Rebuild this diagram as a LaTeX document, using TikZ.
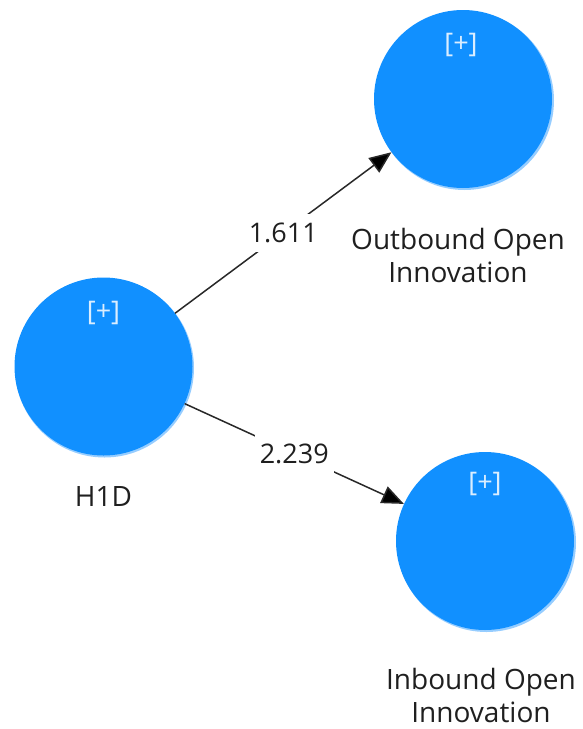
\documentclass[tikz,border=0pt]{standalone}
\usepackage{fontspec}
\setmainfont{Open Sans}
\usetikzlibrary{arrows.meta}
\definecolor{lvblue}{RGB}{17,144,255}
\definecolor{lvrim}{RGB}{150,205,255}
\definecolor{pathgray}{RGB}{40,40,40}
\tikzset{
  latent/.style={circle, fill=lvblue, minimum size=178pt, inner sep=0pt},
  rim/.style={circle, fill=lvrim, minimum size=179pt, inner sep=0pt},
  plus/.style={text=white!85!lvblue, font=\fontsize{27}{30}\selectfont},
  caption/.style={align=center, font=\fontsize{28}{33}\selectfont, text=black!88, inner sep=1pt},
  path/.style={draw=pathgray, line width=1.5pt, -{Triangle[length=22pt,width=18pt,fill=black]}},
  coef/.style={fill=white, inner xsep=5pt, inner ysep=9pt, font=\fontsize{27}{30}\selectfont, text=black!88}
}
\begin{document}
\begin{tikzpicture}[x=1pt, y=-1pt]
  \useasboundingbox (0,0) rectangle (583,729);
  % light rims behind the constructs
  \node[rim] at (104.5,368) {};
  \node[rim] at (464.5,100.5) {};
  \node[rim] at (486.5,542.5) {};
  % constructs
  \node[latent] (h1d) at (103.5,366.5) {};
  \node[latent] (obi) at (463,99) {};
  \node[latent] (ibi) at (485,541) {};
  \node[plus] (h1dp) at (103.5,313) {[+]};
  \node[plus] (obip) at (461,45) {[+]};
  \node[plus] (ibip) at (485,484) {[+]};
  % names
  \node[caption] (h1dn) at (103.5,496) {H1D};
  \node[caption] (obin) at (458,255) {Outbound Open\\Innovation};
  \node[caption] (ibin) at (481,695) {Inbound Open\\Innovation};
  % paths with coefficients
  \draw[path] (h1d) -- (obi) node[coef, pos=0.5] (c1) {1.611};
  \draw[path] (h1d) -- (ibi) node[coef, pos=0.5] (c2) {2.239};
\end{tikzpicture}
\end{document}
